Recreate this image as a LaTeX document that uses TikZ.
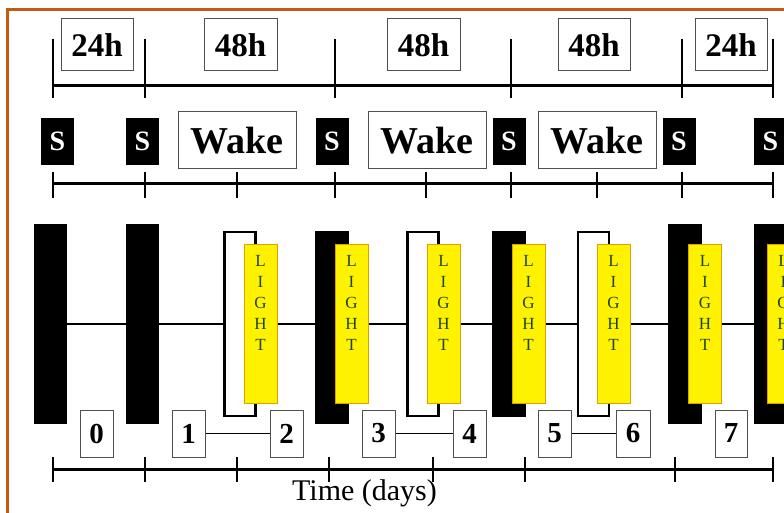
\documentclass[tikz,border=0pt]{standalone}
\usepackage{fontspec}
\setmainfont{Liberation Serif}
\definecolor{frameorange}{HTML}{C55A11}
\definecolor{lightyellow}{HTML}{FFF200}
\definecolor{lightedge}{HTML}{E0A000}
\definecolor{lightgreen}{HTML}{1E461E}
\definecolor{boxgray}{HTML}{505050}
\tikzset{
  lbl/.style={draw=boxgray, line width=1pt, fill=white, inner sep=0pt, font=\fontsize{33}{33}\selectfont\bfseries},
  hourbox/.style={lbl, minimum width=72pt, minimum height=52pt},
  wakebox/.style={lbl, minimum width=118pt, minimum height=57pt, font=\fontsize{38}{38}\selectfont\bfseries},
  sbox/.style={fill=black, text=white, inner sep=0pt, minimum width=33pt, minimum height=47pt, font=\fontsize{28}{28}\selectfont\bfseries},
  numbox/.style={lbl, minimum width=33pt, minimum height=47pt, font=\fontsize{29}{29}\selectfont\bfseries},
  sleepbar/.style={fill=black, inner sep=0pt, minimum width=33pt},
  wakebar/.style={draw=black, line width=2.5pt, fill=white, inner sep=0pt, minimum width=31pt},
  lightbar/.style={fill=lightyellow, draw=lightedge, line width=1pt, inner sep=0pt, minimum width=33pt, minimum height=159pt},
  lighttext/.style={text=lightgreen, align=center, inner sep=0pt, anchor=north, font=\fontsize{17}{21}\selectfont},
  axis/.style={line width=3pt},
  tick/.style={line width=2pt},
  link/.style={line width=1pt},
}
\begin{document}
\begin{tikzpicture}[x=1pt,y=-1pt]
\clip (0,0) rectangle (784,513);
\fill[white] (0,0) rectangle (784,513);
% frame
\draw[frameorange, line width=3pt] (7,520) -- (7,10) -- (790,10);

% top timeline
\coordinate (ta) at (53,86);
\coordinate (tb) at (773,86);
\draw[axis] (ta) -- (tb);
\foreach \x in {53,145,335,511,682,773} \draw[tick] (\x,39) -- (\x,98);
\node[hourbox] (h1) at (97,45) {24h};
\node[hourbox, minimum width=73pt] (h2) at (240.5,45) {48h};
\node[hourbox, minimum width=73pt] (h3) at (423.5,45) {48h};
\node[hourbox] (h4) at (594,45) {48h};
\node[hourbox] (h5) at (731,45) {24h};

% second timeline
\coordinate (sa) at (53,184);
\coordinate (sb) at (773,184);
\draw[axis] (sa) -- (sb);
\foreach \x in {53,145,237,335,426,511,597,682,773} \draw[tick] (\x,172) -- (\x,198);
\node[sbox] (s1) at (57.5,141.5) {S};
\node[sbox] (s2) at (142.5,141.5) {S};
\node[sbox] (s3) at (332,141.5) {S};
\node[sbox] (s4) at (509,141.5) {S};
\node[sbox] (s5) at (679,141.5) {S};
\node[sbox] (s6) at (770.5,141.5) {S};
\node[wakebox] (w1) at (237,140.5) {Wake};
\node[wakebox] (w2) at (427,140.5) {Wake};
\node[wakebox] (w3) at (597,140.5) {Wake};

% bars
\coordinate (mstart) at (50.5,324);
\coordinate (mend) at (784,324);
\draw[line width=2pt] (mstart) -- (mend);
\node[sleepbar, minimum height=200pt] (b1) at (50.5,324) {};
\node[sleepbar, minimum height=200pt] (b2) at (142.5,324) {};
\node[wakebar, minimum height=184pt] (o1) at (240,324) {};
\node[sleepbar, minimum width=34pt, minimum height=193pt] (b3) at (332,327.5) {};
\node[wakebar, minimum height=184pt] (o2) at (423,324) {};
\node[sleepbar, minimum width=34pt, minimum height=186pt] (b4) at (509,324) {};
\node[wakebar, minimum height=184pt] (o3) at (593.5,324) {};
\node[sleepbar, minimum width=34pt, minimum height=200pt] (b5) at (685,324) {};
\node[sleepbar, minimum width=34pt, minimum height=200pt] (b6) at (771,324) {};

\foreach \n/\x in {1/260.5,2/351.5,3/443.5,4/528.5,5/613.5,6/705,7/783.5}{
  \node[lightbar] (y\n) at (\x,323.5) {};
  \node[lighttext] (t\n) at (\x,255) {L\\I\\G\\H\\T};
}

% numbers
\node[numbox] (n0) at (96.5,433.5) {0};
\node[numbox] (n1) at (188.5,433.5) {1};
\node[numbox] (n2) at (286.5,433.5) {2};
\node[numbox] (n3) at (378.5,433.5) {3};
\node[numbox] (n4) at (469.5,433.5) {4};
\node[numbox] (n5) at (554.5,433.5) {5};
\node[numbox, minimum width=34pt] (n6) at (633,433.5) {6};
\node[numbox, minimum width=32pt] (n7) at (731,433.5) {7};
\draw[link] (n1) -- (n2);
\draw[link] (n3) -- (n4);
\draw[link] (n5) -- (n6);

% bottom axis
\coordinate (ba) at (53,469);
\coordinate (bb) at (773,469);
\draw[axis] (ba) -- (bb);
\foreach \x in {53,145,237,329,433,525,675,773} \draw[tick] (\x,457) -- (\x,482);
\node[font=\fontsize{30}{30}\selectfont, inner sep=0pt] (time) at (364.5,493) {Time (days)};
\end{tikzpicture}
\end{document}
